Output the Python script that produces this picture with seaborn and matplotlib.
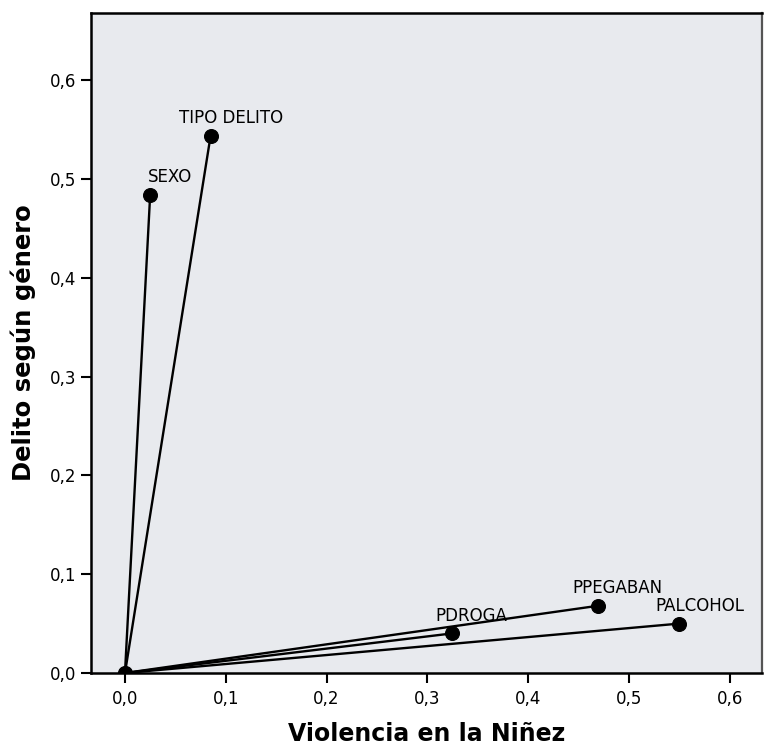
import matplotlib
matplotlib.use("Agg")
import matplotlib.pyplot as plt
from matplotlib.ticker import FuncFormatter, MultipleLocator
import seaborn as sns
import pandas as pd

# Data
variables = ["SEXO", "TIPO DELITO", "PDROGA", "PPEGABAN", "PALCOHOL"]
dim1 = [0.025, 0.085, 0.324, 0.469, 0.550]   # Violencia en la Niñez
dim2 = [0.484, 0.544, 0.040, 0.068, 0.050]   # Delito según género
x_label = "Violencia en la Niñez"
y_label = "Delito según género"

rows = []
for v, x, y in zip(variables, dim1, dim2):
    rows.append({"var": v, "x": 0.0, "y": 0.0, "order": 0})
    rows.append({"var": v, "x": x, "y": y, "order": 1})
seg = pd.DataFrame(rows)
pts = pd.DataFrame({"var": variables, "x": dim1, "y": dim2})

sns.set_style("white")
plt.rcParams["font.family"] = ["DejaVu Sans"]

fig = plt.figure(figsize=(7.64, 7.45), dpi=100)
ax = fig.add_axes([91/764, 1 - 673/745, (762-91)/764, (673-13)/745])
ax.set_facecolor("#e8eaee")

sns.lineplot(data=seg, x="x", y="y", units="var", estimator=None, sort=False,
             color="black", linewidth=1.7, ax=ax, legend=False)
sns.scatterplot(data=pts, x="x", y="y", color="black", s=100, edgecolor="black",
                ax=ax, legend=False, zorder=5)
ax.scatter([0.0], [0.0], color="black", s=100, zorder=5)

for v, x, y in zip(variables, dim1, dim2):
    ax.annotate(v, (x, y), xytext=(14.5, 9), textcoords="offset points",
                ha="center", va="baseline", fontsize=12, color="black")

ax.set_xlim(-0.0337, 0.632)
ax.set_ylim(0.0, 0.668)
ax.xaxis.set_major_locator(MultipleLocator(0.1))
ax.yaxis.set_major_locator(MultipleLocator(0.1))
fmt = FuncFormatter(lambda v, p: f"{v:.1f}".replace(".", ","))
ax.xaxis.set_major_formatter(fmt)
ax.yaxis.set_major_formatter(fmt)
ax.tick_params(axis="both", direction="out", length=7, width=1.5,
               labelsize=12, colors="black", bottom=True, left=True)
ax.tick_params(axis="x", pad=5)

for side in ["left", "bottom", "top"]:
    ax.spines[side].set_color("black")
    ax.spines[side].set_linewidth(1.8)
ax.spines["right"].set_color("#555555")
ax.spines["right"].set_linewidth(1.6)

ax.set_xlabel(x_label, fontsize=17, fontweight="bold", labelpad=10, color="black")
ax.set_ylabel(y_label, fontsize=17.5, fontweight="bold", labelpad=10, color="black")

fig.savefig("out.png", dpi=100)
